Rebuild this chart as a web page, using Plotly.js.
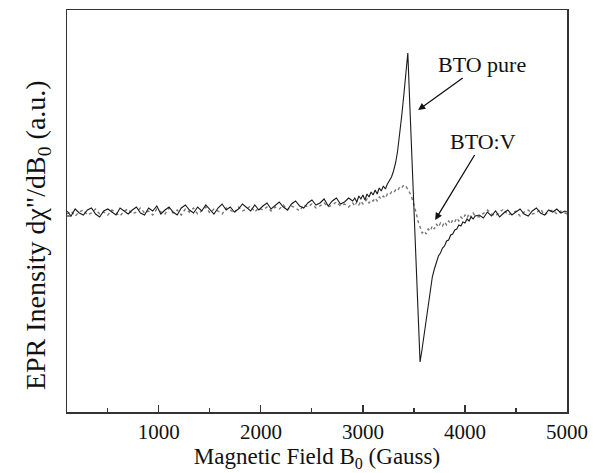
<!DOCTYPE html>
<html>
<head>
<meta charset="utf-8">
<script src="https://cdn.plot.ly/plotly-3.0.1.min.js"></script>
<style>
  html, body { margin: 0; padding: 0; background: #fff; }
  #chart { width: 595px; height: 473px; }
</style>
</head>
<body>
<div id="chart"></div>
<script>
// Magnetic field sweep (Gauss)
const fieldGauss = [
  100,140,180,220,260,300,340,380,420,460,
  500,540,580,620,660,700,740,780,820,860,
  900,940,980,1020,1060,1100,1140,1180,1220,1260,
  1300,1340,1380,1420,1460,1500,1540,1580,1620,1660,
  1700,1740,1780,1820,1860,1900,1940,1980,2020,2060,
  2100,2140,2180,2220,2260,2300,2340,2380,2420,2460,
  2500,2540,2580,2620,2660,2700,2740,2780,2820,2860,
  2900,
  2920,2940,2960,2980,3000,3020,3040,3060,3080,3100,
  3120,3140,3160,3180,3200,3220,3240,3260,3280,3300,
  3320,3340,3360,3380,3400,3420,3440,3460,3480,3500,
  3520,3540,3560,3580,3600,3620,3640,3660,3680,3700,
  3720,3740,3760,3780,3800,3820,3840,3860,3880,3900,
  3920,3940,3960,3980,4000,4020,4040,4060,4080,4100,
  4140,4180,4220,4260,4300,4340,4380,4420,4460,4500,
  4540,4580,4620,4660,4700,4740,4780,4820,4860,4900,
  4940,4980,5000
];

// EPR derivative signal, undoped BTO (a.u.)
const btoPure = [
  2,-3,4,0,-2,3,5,-1,-4,2,
  4,1,-2,5,2,-1,3,6,0,-2,
  5,2,7,-1,3,6,1,-2,5,8,
  3,0,6,2,8,4,-1,5,9,3,
  6,1,4,9,5,2,8,3,7,10,
  4,8,11,6,3,9,12,7,5,10,
  13,8,10,14,7,12,15,9,11,15,
  12,
  15,11,17,14,18,13,19,16,21,18,
  23,19,25,22,27,24,29,32,36,42,
  50,62,78,97,117,138,160,107,53,0,
  -50,-100,-149,-136,-121,-105,-90,-76,-64,-56,
  -49,-43,-40,-35,-33,-28,-27,-22,-21,-17,
  -16,-12,-13,-9,-10,-6,-8,-4,-6,-3,
  -2,-5,1,-3,2,-4,0,3,-2,1,
  4,-1,-3,2,5,0,-2,3,1,4,
  0,2,1
];

// EPR derivative signal, V-doped BTO (a.u.)
const btoV = [
  -1,2,-3,1,3,-2,0,4,-1,1,
  -2,3,0,-3,2,4,-1,1,5,0,
  2,-2,4,1,-1,5,0,3,-2,4,
  1,5,-1,2,6,0,4,2,-1,5,
  3,0,6,2,4,7,1,5,3,6,
  2,6,4,8,3,7,5,2,8,6,
  9,5,7,10,6,8,11,7,9,6,
  10,
  7,11,8,12,9,11,14,10,13,12,
  15,12,16,14,17,15,19,18,21,20,
  23,22,26,25,28,27,24,20,15,9,
  1,-8,-15,-20,-18,-21,-16,-18,-13,-16,
  -11,-14,-10,-13,-9,-12,-8,-11,-7,-9,
  -5,-8,-4,-6,-2,-5,-1,-4,0,-3,
  -4,0,3,-1,-3,1,4,-2,0,2,
  -3,1,3,-1,0,4,-2,1,3,-1,
  2,0,-1
];

const xTickVals = [1000, 2000, 3000, 4000, 5000];
const xTickText = ['1000', '2000', '3000', '4000', '5000'];

const serif = '"Liberation Serif", "Times New Roman", Times, serif';

const traces = [
  {
    x: fieldGauss, y: btoV, type: 'scatter', mode: 'lines', name: 'BTO:V',
    line: { color: '#777', width: 1.4, dash: 'dot' }
  },
  {
    x: fieldGauss, y: btoPure, type: 'scatter', mode: 'lines', name: 'BTO pure',
    line: { color: '#1a1a1a', width: 1.1 }
  }
];

const layout = {
  width: 595, height: 473,
  margin: { l: 67, r: 28, t: 10, b: 61 },
  paper_bgcolor: '#fff', plot_bgcolor: '#fff',
  showlegend: false,
  font: { family: serif, color: '#111', size: 21 },
  xaxis: {
    range: [100, 5000],
    tickvals: xTickVals, ticktext: xTickText,
    ticks: 'inside', ticklen: 7, tickwidth: 1.2, tickcolor: '#333',
    minor: { tickvals: [500, 1500, 2500, 3500, 4500], ticks: 'inside', ticklen: 4, tickwidth: 1.2, tickcolor: '#333' },
    showline: true, linecolor: '#333', linewidth: 1.5, mirror: true,
    showgrid: false, zeroline: false,
    tickfont: { family: serif, size: 21, color: '#111' },
    title: { text: 'Magnetic Field B<sub>0</sub> (Gauss)', font: { family: serif, size: 23, color: '#111' }, standoff: 3 }
  },
  yaxis: {
    range: [-199, 203],
    showticklabels: false, ticks: '',
    showline: true, linecolor: '#333', linewidth: 1.5, mirror: true,
    showgrid: false, zeroline: false
  },
  shapes: [
    // small baseline mark on the left axis
    { type: 'line', xref: 'paper', yref: 'y', x0: 0, x1: 0.008, y0: -3, y1: -3,
      line: { color: '#333', width: 1.2 } }
  ],
  annotations: [
    { xref: 'paper', yref: 'paper', x: -0.06, y: 0.44, xanchor: 'center', yanchor: 'middle', textangle: -90,
      text: 'EPR Inensity d\u03c7"/dB<sub>0</sub> (a.u.)', showarrow: false,
      font: { family: serif, size: 28, color: '#111' } },
    { x: 3541, y: 103, xref: 'x', yref: 'y', ax: 4169, ay: 149, axref: 'x', ayref: 'y',
      text: 'BTO pure', showarrow: true, arrowhead: 2, arrowsize: 1.1, arrowwidth: 1.3, arrowcolor: '#111',
      font: { family: serif, size: 22, color: '#111' } },
    { x: 3708, y: -7, xref: 'x', yref: 'y', ax: 4178, ay: 72, axref: 'x', ayref: 'y',
      text: 'BTO:V', showarrow: true, arrowhead: 2, arrowsize: 1.1, arrowwidth: 1.3, arrowcolor: '#111',
      font: { family: serif, size: 22, color: '#111' } }
  ]
};

Plotly.newPlot('chart', traces, layout, { staticPlot: true, displayModeBar: false });
</script>
</body>
</html>
